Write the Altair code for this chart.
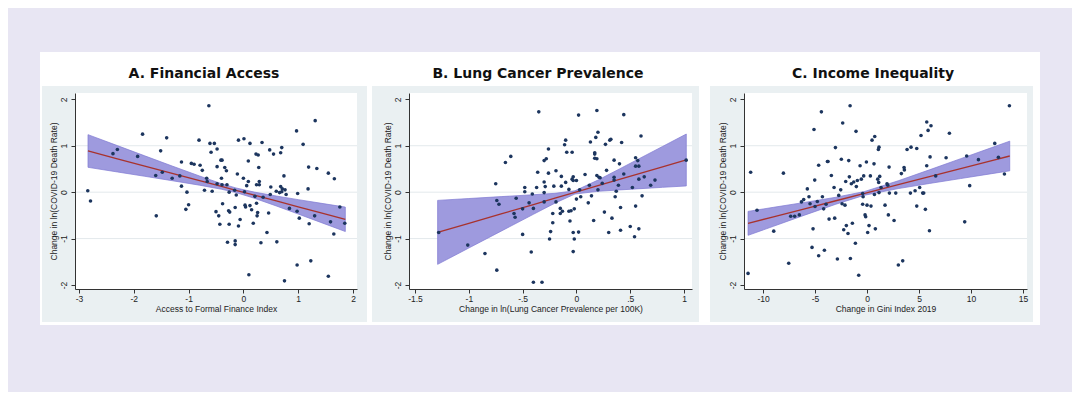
import altair as alt
import pandas as pd

# ---------------- data ----------------
titles = ["A. Financial Access", "B. Lung Cancer Prevalence", "C. Income Inequality"]
x_titles = ["Access to Formal Finance Index",
            "Change in ln(Lung Cancer Prevalence per 100K)",
            "Change in Gini Index 2019"]
y_title = "Change in ln(COVID-19 Death Rate)"
y_ticks = [-2, -1, 0, 1, 2]
grid_y = [-1, 0, 1]

a_ticks = [-3, -2, -1, 0, 1, 2]
b_ticks = [-1.5, -1, -0.5, 0, 0.5, 1]
c_ticks = [-10, -5, 0, 5, 10, 15]

a_x = [-2.84, -2.79, -2.38, -2.30, -1.93, -1.84, -1.59, -1.60, -1.51, -1.48, -1.40, -1.30, -1.16, -1.13, -1.13,
       -1.03, -1.05, -1.00, -0.95, -0.90, -0.81, -0.79, -0.75, -0.71, -0.67, -0.63, -0.61, -0.59, -0.57, -0.53,
       -0.50, -0.48, -0.48, -0.48, -0.45, -0.43, -0.41, -0.39, -0.40, -0.39, -0.38, -0.34, -0.31, -0.30, -0.29,
       -0.27, -0.26, -0.26, -0.25, -0.16, -0.15, -0.15, -0.13, -0.15, -0.11, -0.09, -0.09, -0.06, 0.01, 0.00,
       0.02, 0.03, 0.04, 0.06, 0.09, 0.09, 0.10, 0.12, 0.12, 0.15, 0.18, 0.21, 0.23, 0.24, 0.24, 0.26, 0.25,
       0.27, 0.28, 0.29, 0.29, 0.32, 0.34, 0.36, 0.43, 0.46, 0.48, 0.49, 0.50, 0.55, 0.60, 0.61, 0.66, 0.68,
       0.68, 0.70, 0.70, 0.71, 0.74, 0.75, 0.76, 0.78, 0.84, 0.97, 0.98, 0.99, 0.98, 1.02, 1.09, 1.18, 1.19,
       1.20, 1.23, 1.31, 1.30, 1.34, 1.55, 1.55, 1.59, 1.65, 1.66, 1.76, 1.85, -0.66]
a_y = [0.03, -0.19, 0.83, 0.92, 0.77, 1.25, -0.51, 0.36, 0.89, 0.43, 1.17, 0.30, 0.35, 0.65, 0.13,
       0.00, -0.37, -0.27, 0.62, 0.60, 1.12, 0.58, 0.47, 0.04, 0.30, 1.86, 1.05, 0.86, 0.02, 1.05,
       -0.42, 0.93, 0.55, 0.18, -0.51, -0.69, 0.69, 0.69, 0.30, 0.16, -0.25, 0.53, 0.46, 0.16, -1.08,
       -0.40, -0.69, 0.00, -0.43, 0.04, -1.05, -1.13, -0.06, -0.33, 0.39, -0.73, 1.12, -0.59, 1.15, 0.30,
       0.01, -0.28, -0.32, 0.14, 0.67, 0.23, -1.78, 1.05, -0.29, -0.38, -0.67, -0.09, 0.82, -0.24, 0.16, -0.44, -0.51,
       0.80, 0.53, 0.23, 0.16, -1.09, 1.07, -0.11, -0.87, -0.45, 0.91, -0.05, 0.11, 0.82, 0.02, -1.07, -0.01, 0.12,
       0.85, 0.96, 0.01, 0.07, 0.35, -1.91, 0.05, -0.05, -0.35, 1.32, -0.41, -0.03, -1.57, -0.56, 1.03, 0.07, 0.54,
       -0.68, -1.48, 1.54, -0.51, 0.51, 0.41, -1.81, -0.64, -0.90, 0.29, -0.32, -0.67, 0.23]

b_x = [-1.28, -1.01, -0.85, -0.75, -0.74, -0.72, -0.74, -0.66, -0.61, -0.58, -0.57, -0.56, -0.48, -0.48, -0.50,
       -0.50, -0.44, -0.42, -0.41, -0.40, -0.40, -0.37, -0.36, -0.35, -0.32, -0.30, -0.30, -0.29, -0.30, -0.30,
       -0.28, -0.26, -0.26, -0.25, -0.24, -0.22, -0.22, -0.21, -0.19, -0.19, -0.15, -0.15, -0.14, -0.14, -0.13,
       -0.11, -0.10, -0.10, -0.09, -0.07, -0.07, -0.06, -0.05, -0.04, -0.04, -0.03, -0.03, -0.03, -0.03, -0.02,
       -0.02, 0.00, 0.00, 0.02, 0.02, 0.03, 0.04, 0.08, 0.11, 0.12, 0.13, 0.14, 0.16, 0.17, 0.17, 0.17, 0.18,
       0.19, 0.19, 0.19, 0.20, 0.20, 0.21, 0.22, 0.24, 0.26, 0.27, 0.28, 0.30, 0.31, 0.32, 0.33, 0.35, 0.35,
       0.35, 0.36, 0.37, 0.39, 0.40, 0.41, 0.41, 0.42, 0.44, 0.44, 0.50, 0.52, 0.54, 0.55, 0.55, 0.55, 0.57,
       0.58, 0.58, 0.58, 0.60, 0.61, 0.63, 0.69, 0.73, 1.02]
b_y = [-0.87, -1.14, -1.32, 0.18, -0.18, -0.26, -1.68, 0.64, 0.77, -0.46, -0.54, -0.13, 0.10, 0.01, -0.36,
       -0.91, -0.23, -1.29, -0.04, -0.35, -1.94, 0.10, 0.43, 1.73, -1.94, 0.68, 0.22, 0.12, -0.01, -0.21,
       0.72, 0.93, 0.41, -1.01, -0.85, -0.66, -0.46, 0.13, 0.46, -0.21, -0.35, -0.46, 0.13, 0.34, -0.41,
       1.02, 1.12, 0.21, 0.86, 0.06, -0.41, -0.62, -0.40, 0.28, 0.86, -0.87, 0.25, -1.28, 0.33, -0.36,
       -1.01, 0.25, -0.15, 1.66, -0.86, 0.05, -0.10, 0.38, -0.23, 0.15, 1.08, -0.08, -0.61, 0.73, 0.82, 0.85, 1.18,
       1.76, 0.36, 0.72, 0.05, 1.29, 0.32, 0.31, 0.19, -0.43, 1.03, 0.47, -0.87, 1.12, 1.14, -0.56, 0.26, 0.32,
       0.69, -0.10, 0.02, 0.15, 0.61, -0.33, -0.82, 1.07, 0.39, 1.67, -0.74, 0.10, -0.96, 0.74, -0.30, 0.56, 0.68,
       0.28, 0.56, -0.79, 1.21, -0.08, 0.33, 0.15, 0.26, 0.69]

c_x = [-11.44, -11.19, -10.58, -8.97, -8.04, -7.53, -7.34, -6.96, -6.51, -6.31, -6.09, -5.74, -5.58, -5.48, -5.29,
       -5.19, -5.10, -5.03, -5.00, -4.78, -4.65, -4.65, -4.39, -4.29, -4.17, -4.10, -3.94, -3.81, -3.75, -3.65,
       -3.43, -3.17, -3.11, -3.04, -2.85, -2.72, -2.53, -2.47, -2.40, -2.34, -2.24, -2.12, -2.05, -1.99, -1.83,
       -1.76, -1.70, -1.63, -1.60, -1.51, -1.41, -1.28, -1.12, -1.06, -1.03, -0.93, -0.80, -0.67, -0.55, -0.42,
       -0.42, -0.38, -0.32, -0.19, -0.13, -0.06, 0.00, 0.06, 0.19, 0.32, 0.38, 0.48, 0.67, 0.71, 0.74, 0.80,
       1.03, 1.09, 1.12, 1.15, 1.15, 1.22, 1.35, 1.73, 1.92, 1.99, 2.05, 2.12, 2.15, 2.60, 2.76, 3.01, 3.30,
       3.43, 3.56, 3.59, 3.85, 4.17, 4.23, 4.62, 4.78, 4.78, 5.06, 5.19, 5.35, 5.45, 5.61, 5.74, 5.74, 5.87,
       6.00, 6.06, 6.15, 6.60, 7.60, 7.92, 9.39, 9.58, 9.87, 10.71, 12.28, 12.63, 13.21, 13.69]
c_y = [-1.75, 0.43, -0.39, -0.84, 0.41, -1.53, -0.52, -0.52, -0.49, -0.21, -0.16, 0.07, -0.10, -0.25, -1.19,
       -0.79, 1.35, 0.26, -0.31, -0.20, 0.58, -1.37, 1.73, -0.10, -0.36, -1.25, -0.26, 0.66, 0.66, -0.58,
       0.36, 0.10, -0.56, 0.96, -1.44, -0.07, 0.05, 0.71, -0.25, 1.49, -0.81, -0.28, 0.23, -0.72, -0.89,
       0.68, 0.33, 1.86, -1.43, 0.18, -0.67, 0.22, -1.10, 1.31, 0.12, 0.25, -1.79, 0.57, 0.28, -0.26,
       -0.03, -0.10, 0.35, -0.49, -0.53, 0.65, -0.28, -0.87, -0.72, 0.35, -0.30, 1.12, 0.61, -0.05, 1.20, -0.79,
       0.28, 0.92, 0.21, 0.97, -0.01, 0.34, 0.10, -0.28, 0.18, 0.15, -0.49, 0.54, -0.02, -0.61, -0.02, -1.57, 0.40,
       -1.48, 0.53, 0.48, 0.92, -0.02, 0.97, 0.03, 0.94, -0.30, 0.10, 1.22, -0.02, -0.02, -0.37, 0.57, 1.51, 1.33,
       -0.83, 0.76, 1.43, 0.35, 0.74, 1.27, -0.64, 0.78, 0.14, 0.70, 1.05, 0.75, 0.39, 1.86]

# fitted line and 95% CI band, read at several x positions
a_bx = [-2.836, -2.3, -1.8, -1.3, -0.8, -0.4, -0.137, 0.2, 0.6, 1.0, 1.4, 1.86]
a_fit = [0.887, 0.719, 0.562, 0.405, 0.249, 0.123, 0.041, -0.065, -0.190, -0.316, -0.441, -0.585]
a_hi = [1.239, 1.003, 0.782, 0.563, 0.348, 0.183, 0.091, 0.001, -0.083, -0.161, -0.236, -0.322]
a_lo = [0.535, 0.435, 0.342, 0.247, 0.150, 0.063, -0.009, -0.131, -0.297, -0.471, -0.646, -0.848]

b_bx = [-1.29, -1.0, -0.7, -0.4, -0.2, -0.014, 0.2, 0.4, 0.6, 0.8, 1.021]
b_fit = [-0.866, -0.670, -0.468, -0.266, -0.131, -0.005, 0.139, 0.274, 0.409, 0.544, 0.693]
b_hi = [-0.177, -0.137, -0.096, -0.055, -0.025, 0.030, 0.260, 0.500, 0.742, 0.984, 1.252]
b_lo = [-1.555, -1.203, -0.840, -0.477, -0.237, -0.040, 0.018, 0.048, 0.076, 0.104, 0.134]

c_bx = [-11.44, -9, -6, -3, -0.225, 3, 6, 9, 12, 13.72]
c_fit = [-0.672, -0.531, -0.358, -0.185, -0.025, 0.161, 0.334, 0.507, 0.680, 0.779]
c_hi = [-0.414, -0.327, -0.221, -0.110, 0.015, 0.245, 0.481, 0.721, 0.961, 1.099]
c_lo = [-0.930, -0.735, -0.495, -0.260, -0.065, 0.077, 0.187, 0.293, 0.399, 0.459]

# ---------------- styling ----------------
PAGE_BG = "#e8e6f3"
PANEL_BG = "#eaf0f2"
POINT = "#1c355e"
LINE = "#a8322d"
BAND = "#9e9ade"
BAND_EDGE = "#807ad2"
GRID = "#e3e9ec"
AXIS = "#333333"
H = 196
Y_DOM = [-2.086, 2.136]

one = alt.Data(values=[{}])

axis_style = dict(zindex=1, grid=False, tickSize=4, tickColor=AXIS, domainColor=AXIS,
                  domainWidth=1, tickWidth=1,
                  labelFont="Liberation Sans", labelFontSize=8.5, labelColor="#222222",
                  titleFont="Liberation Sans", titleFontSize=8.5, titleFontWeight="normal",
                  titleColor="#222222")

y_label_expr = "replace(format(datum.value, 'd'), '\u2212', '-')"


def panel(xs, ys, bx, fit, hi, lo, xdom, xticks, xlabel_expr, xtitle, title,
          width, white_l, white_r, gray_l, gray_r):
    pts = pd.DataFrame({"x": xs, "y": ys})
    band = pd.DataFrame({"x": bx, "fit": fit, "hi": hi, "lo": lo})
    xscale = alt.Scale(domain=xdom, nice=False, zero=False)
    yscale = alt.Scale(domain=Y_DOM, nice=False, zero=False)
    xaxis = alt.Axis(values=xticks, title=xtitle, labelExpr=xlabel_expr,
                     labelPadding=1, titlePadding=2, **axis_style)
    yaxis = alt.Axis(values=y_ticks, title=y_title, labelExpr=y_label_expr,
                     labelAngle=270, labelAlign="center", labelBaseline="bottom",
                     labelPadding=3, titlePadding=1, **axis_style)

    card = alt.Chart(one).mark_rect(color="white").encode(
        x=alt.value(white_l), x2=alt.value(width + white_r),
        y=alt.value(-41), y2=alt.value(H + 36))
    gray = alt.Chart(one).mark_rect(color=PANEL_BG).encode(
        x=alt.value(gray_l), x2=alt.value(width + gray_r),
        y=alt.value(-7), y2=alt.value(H + 33))
    plotbg = alt.Chart(one).mark_rect(color="white").encode(
        x=alt.value(0), x2=alt.value(width), y=alt.value(0), y2=alt.value(H))
    grid = alt.Chart(pd.DataFrame({"g": grid_y})).mark_rule(
        color=GRID, strokeWidth=1).encode(
        y=alt.Y("g:Q", scale=yscale, axis=yaxis, title=y_title))
    area = alt.Chart(band).mark_area(
        fill=BAND, stroke=BAND_EDGE, strokeWidth=0.7, opacity=1).encode(
        x=alt.X("x:Q", scale=xscale, axis=xaxis, title=xtitle),
        y=alt.Y("hi:Q", scale=yscale, axis=yaxis, title=y_title),
        y2="lo:Q")
    line = alt.Chart(band).mark_line(color=LINE, strokeWidth=1.3).encode(
        x=alt.X("x:Q", scale=xscale, axis=xaxis, title=xtitle),
        y=alt.Y("fit:Q", scale=yscale, axis=yaxis, title=y_title))
    points = alt.Chart(pts).mark_circle(size=13, color=POINT, opacity=1).encode(
        x=alt.X("x:Q", scale=xscale, axis=xaxis, title=xtitle),
        y=alt.Y("y:Q", scale=yscale, axis=yaxis, title=y_title))
    ttl = alt.Chart(one).mark_text(
        font="DejaVu Sans", fontSize=14, fontWeight="bold", color="#111111",
        align="center", baseline="alphabetic").encode(
        x=alt.value(129), y=alt.value(-15), text=alt.value(title))
    return alt.layer(card, gray, plotbg, grid, area, line, points, ttl).properties(
        width=width, height=H)


plain = "replace(format(datum.value, '~g'), '\u2212', '-')"
dotted = "replace(replace(format(datum.value, '~g'), '\u2212', '-'), '0.', '.')"

pa = panel(a_x, a_y, a_bx, a_fit, a_hi, a_lo, [-3.073, 2.073], a_ticks, plain,
           x_titles[0], titles[0], 282, -35, 13, -33, 10)
pb = panel(b_x, b_y, b_bx, b_fit, b_hi, b_lo, [-1.556, 1.074], b_ticks, dotted,
           x_titles[1], titles[1], 283, -39, 12, -37, 7)
pc = panel(c_x, c_y, c_bx, c_fit, c_hi, c_lo, [-11.83, 15.38], c_ticks, plain,
           x_titles[2], titles[2], 283, -40, 13, -34, 6)

chart = alt.hconcat(pa, pb, pc, spacing=52, bounds="flush").properties(
    padding={"left": 32, "top": 44, "right": 32, "bottom": 67},
    background=PAGE_BG,
).configure_view(stroke=None)

chart.save("out.html", embed_options={"renderer": "svg", "actions": False})
